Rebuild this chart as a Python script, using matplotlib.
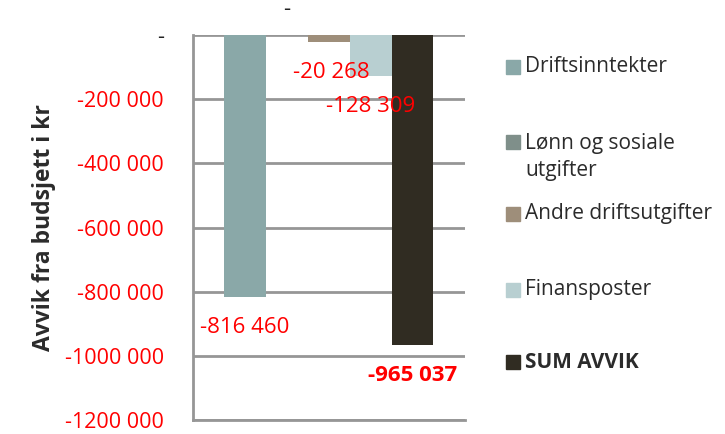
import matplotlib.pyplot as plt
from matplotlib.patches import Rectangle

plt.rcParams['font.family'] = ['Open Sans', 'DejaVu Sans']

# Series (one category, five series)
series = ['Driftsinntekter', 'Lønn og sosiale\nutgifter', 'Andre driftsutgifter',
          'Finansposter', 'SUM AVVIK']
values = [-816460, 0, -20268, -128309, -965037]
colors = ['#8aa8a8', '#7f8f8a', '#9e8e7a', '#b8cfd1', '#302c22']
yticks = [0, -200000, -400000, -600000, -800000, -1000000, -1200000]


def fmt(v):
    # Excel style "### ###": only the last group is split off
    if v == 0:
        return '-'
    s = str(abs(int(v)))
    if len(s) > 3:
        s = s[:-3] + ' ' + s[-3:]
    return ('-' if v < 0 else '') + s


fig = plt.figure(figsize=(7.25, 4.34), dpi=100)
ax = fig.add_axes([0.266, 0.032, 0.375, 0.887])

x = list(range(len(values)))
ax.bar(x, values, width=1.0, color=colors, zorder=3)

# data labels
for i, v in enumerate(values):
    off = 18.5 if v == 0 else -22
    dx = 2 if i == 2 else 0
    bold = 'bold' if i == len(values) - 1 else 'normal'
    col = '#222222' if v == 0 else 'red'
    ax.annotate(fmt(v), xy=(i, v), xytext=(dx, off), textcoords='offset points',
                ha='center', va='center', color=col, fontsize=16, fontweight=bold,
                annotation_clip=False, zorder=5)

ax.set_xlim(-1.25, 5.25)
ax.set_ylim(-1200000, 0)
ax.set_yticks(yticks)
ax.set_yticklabels([fmt(t) for t in yticks])
for t, lab in zip(yticks, ax.get_yticklabels()):
    lab.set_color('#222222' if t == 0 else 'red')
    lab.set_fontsize(15.5)
ax.tick_params(axis='y', length=0, pad=21)
ax.set_xticks([])

ax.grid(axis='y', color='#969696', linewidth=2, zorder=0)
ax.spines['right'].set_visible(False)
ax.spines['top'].set_visible(False)
for s in ['left', 'bottom']:
    ax.spines[s].set_color('#969696')
    ax.spines[s].set_linewidth(2)

ax.set_ylabel('Avvik fra budsjett i kr', fontsize=16.5, fontweight='bold',
              color='#2b2b2b')
ax.yaxis.set_label_coords(-0.505, 0.5)

# legend drawn by hand to keep Excel-like spacing
leg_y = [67, 157, 214, 290, 362]
box_y = [67, 142, 214, 290, 362]
for name, c, yy, by in zip(series, colors, leg_y, box_y):
    fig.patches.append(Rectangle((506 / 725, 1 - (by + 7) / 434), 14 / 725, 14 / 434,
                                 transform=fig.transFigure, color=c))
    fw = 'bold' if name == 'SUM AVVIK' else 'normal'
    fig.text(525 / 725, 1 - yy / 434, name, fontsize=15, color='#2b2b2b',
             fontweight=fw, va='center', ha='left', linespacing=1.35)

fig.savefig('out.png', dpi=100)
